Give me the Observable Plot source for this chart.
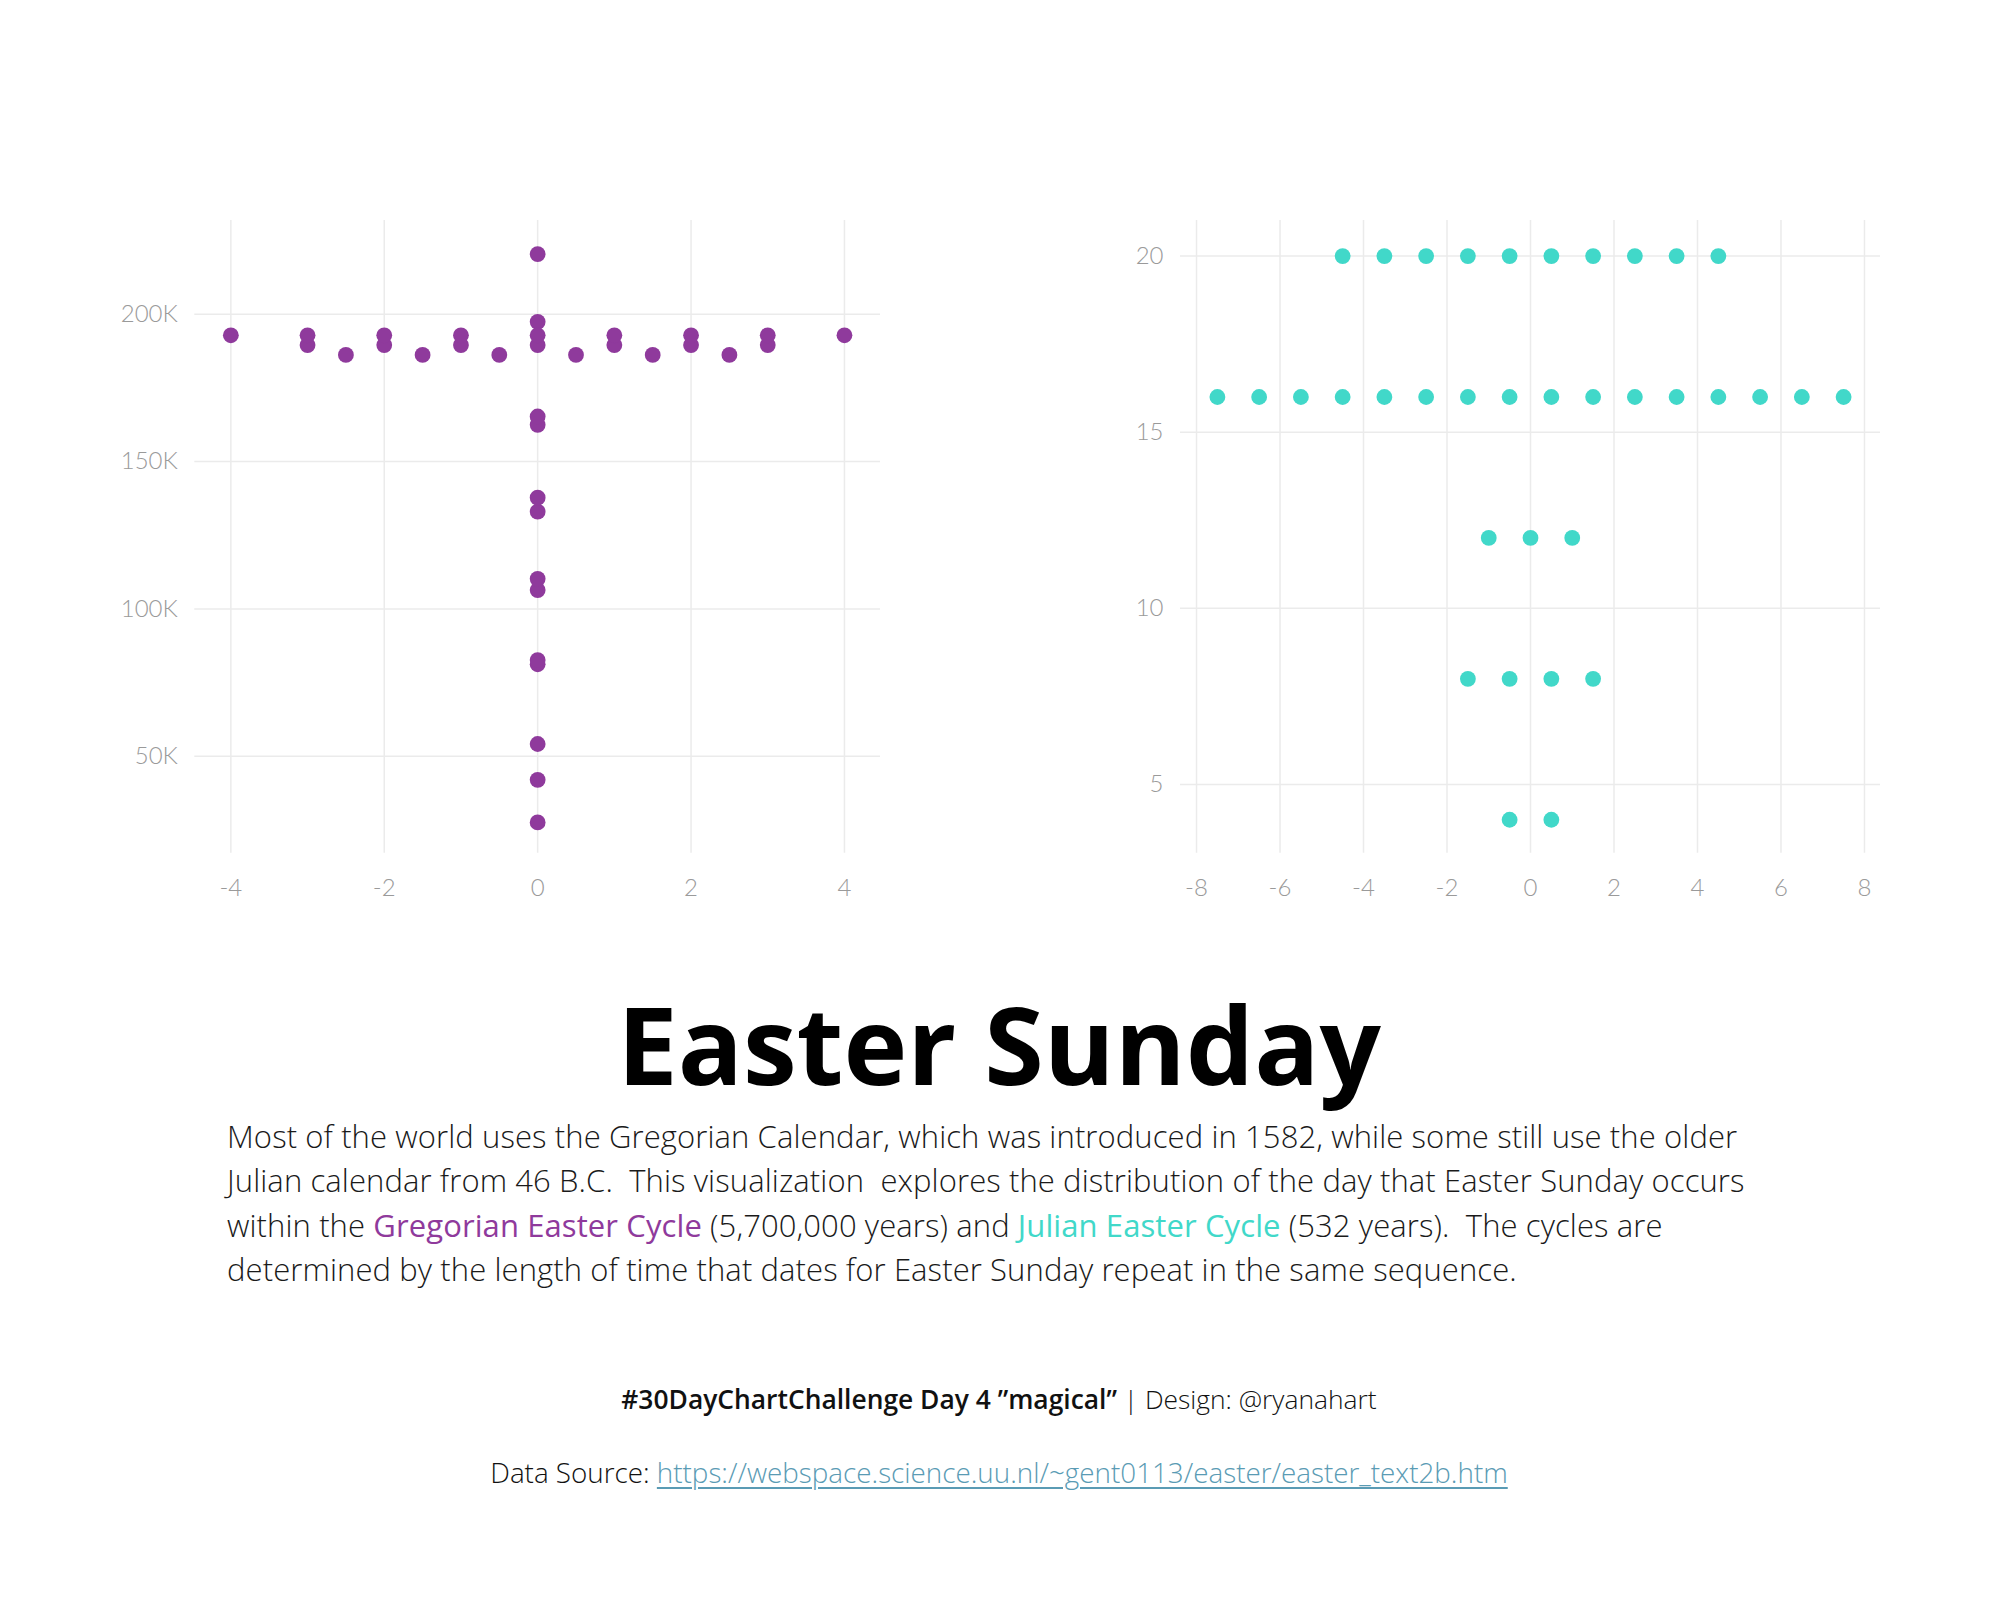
<!DOCTYPE html>
<html>
<head>
<meta charset="utf-8">
<script src="https://cdn.jsdelivr.net/npm/d3@7"></script>
<script src="https://cdn.jsdelivr.net/npm/@observablehq/plot@0.6"></script>
<style>
  html, body { margin: 0; padding: 0; background: #fff; }
  body { width: 1998px; height: 1598px; position: relative; overflow: hidden; }
  .chart { position: absolute; top: 0; }
  .txt { position: absolute; white-space: pre; }
  .center { left: 999px; transform: translateX(-50%); text-align: center; }
  #title { top: 990px; font-family: "Open Sans", sans-serif; font-weight: 700; font-size: 108px; line-height: 1; color: #000; }
  .bline { left: 227px; font-family: "Open Sans", sans-serif; font-weight: 300; font-size: 31px;
    letter-spacing: 0.1px; line-height: 44.3px; height: 44.3px; color: #1a1a1a; }
  .bline .g { color: #8f3a9c; font-weight: 400; }
  .bline .j { color: #41d8c9; font-weight: 400; }
  .foot { font-family: "Open Sans", sans-serif; line-height: 1.2; color: #111; font-weight: 300; }
  .foot .b { font-weight: 600; }
  .foot a { color: #5a9bb4; text-decoration: underline; text-decoration-thickness: 2px; text-underline-offset: 4px; }
</style>
</head>
<body>
<div id="left" class="chart" style="left:0px;width:1000px"></div>
<div id="right" class="chart" style="left:1000px;width:998px"></div>
<div id="title" class="txt center">Easter Sunday</div>
<div id="foot1" class="txt foot center" style="top:1384px;font-size:26.4px"></div>
<div id="foot2" class="txt foot center" style="top:1456px;font-size:27.8px"></div>
<script>
// ---- Data: Gregorian Easter cycle (5,700,000 years), frequency of each Easter date ----
const gregorianYears = [
  27550, 42000, 54150, 81225, 82650, 106400, 110200, 133000, 137750, 162450, 165300, 197400, 220400,
  186200, 186200, 186200, 186200, 186200, 186200,
  189525, 189525, 189525, 189525, 189525, 189525, 189525,
  192850, 192850, 192850, 192850, 192850, 192850, 192850, 192850, 192850
];
const gregorianOffset = [
  0, 0, 0, 0, 0, 0, 0, 0, 0, 0, 0, 0, 0,
  -2.5, -1.5, -0.5, 0.5, 1.5, 2.5,
  -3, -2, -1, 0, 1, 2, 3,
  -4, -3, -2, -1, 0, 1, 2, 3, 4
];
// ---- Data: Julian Easter cycle (532 years) ----
const julianYears = [
  4, 4,
  8, 8, 8, 8,
  12, 12, 12,
  16, 16, 16, 16, 16, 16, 16, 16, 16, 16, 16, 16, 16, 16, 16, 16,
  20, 20, 20, 20, 20, 20, 20, 20, 20, 20
];
const julianOffset = [
  -0.5, 0.5,
  -1.5, -0.5, 0.5, 1.5,
  -1, 0, 1,
  -7.5, -6.5, -5.5, -4.5, -3.5, -2.5, -1.5, -0.5, 0.5, 1.5, 2.5, 3.5, 4.5, 5.5, 6.5, 7.5,
  -4.5, -3.5, -2.5, -1.5, -0.5, 0.5, 1.5, 2.5, 3.5, 4.5
];
// ---- Ticks ----
const gregorianXTicks = [-4, -2, 0, 2, 4];
const gregorianYTicks = [50000, 100000, 150000, 200000];
const gregorianYLabels = ["50K", "100K", "150K", "200K"];
const julianXTicks = [-8, -6, -4, -2, 0, 2, 4, 6, 8];
const julianYTicks = [5, 10, 15, 20];
const julianYLabels = ["5", "10", "15", "20"];

const PURPLE = "#8f3a9c";
const TURQUOISE = "#41d8c9";
const GRID = "#ebebeb";

function chart({years, offset, xDomain, yDomain, xTicks, yTicks, yLabels, color, width, marginLeft, marginRight}) {
  const data = years.map((v, i) => ({freq: v, pos: offset[i]}));
  return Plot.plot({
    width, height: 920,
    marginTop: 220, marginBottom: 67.3, marginLeft, marginRight,
    x: {domain: xDomain, label: null},
    y: {domain: yDomain, label: null},
    style: "font-family: Lato, sans-serif; font-size: 24px; font-weight: 300; color: #9a9a9a; background: transparent; overflow: visible; max-width: none;",
    marks: [
      Plot.gridX(xTicks, {stroke: GRID, strokeOpacity: 1, strokeWidth: 1.5}),
      Plot.gridY(yTicks, {stroke: GRID, strokeOpacity: 1, strokeWidth: 1.5}),
      Plot.axisX(xTicks, {tickSize: 0, tickPadding: 26, tickFormat: d => String(d), label: null, fill: "#9a9a9a"}),
      Plot.axisY(yTicks, {tickSize: 0, tickPadding: 17, tickFormat: d => yLabels[yTicks.indexOf(d)], label: null, fill: "#9a9a9a"}),
      Plot.dot(data, {x: "pos", y: "freq", r: 7.9, fill: color, stroke: null})
    ]
  });
}

document.getElementById("left").appendChild(chart({
  years: gregorianYears, offset: gregorianOffset,
  xDomain: [-4.47, 4.47], yDomain: [17100, 231800],
  xTicks: gregorianXTicks, yTicks: gregorianYTicks, yLabels: gregorianYLabels,
  color: PURPLE, width: 1000, marginLeft: 194.3, marginRight: 120
}));
document.getElementById("right").appendChild(chart({
  years: julianYears, offset: julianOffset,
  xDomain: [-8.384, 8.384], yDomain: [3.05, 21.01],
  xTicks: julianXTicks, yTicks: julianYTicks, yLabels: julianYLabels,
  color: TURQUOISE, width: 998, marginLeft: 180, marginRight: 118
}));

// ---- Text blocks: each line is a separate element made only of spans ----
const bodyLines = [
  [["", "Most of the world uses the Gregorian Calendar, which was introduced in 1582, while some still use the older"]],
  [["", "Julian calendar from 46 B.C.  This visualization  explores the distribution of the day that Easter Sunday occurs"]],
  [["", "within the "], ["g", "Gregorian Easter Cycle"], ["", " (5,700,000 years) and "], ["j", "Julian Easter Cycle"], ["", " (532 years).  The cycles are"]],
  [["", "determined by the length of time that dates for Easter Sunday repeat in the same sequence."]]
];
bodyLines.forEach((parts, i) => {
  const div = document.createElement("div");
  div.className = "txt bline";
  div.style.top = (1114 + i * 44.3) + "px";
  parts.forEach(([cls, t]) => {
    const s = document.createElement("span");
    if (cls) s.className = cls;
    s.textContent = t;
    div.appendChild(s);
  });
  document.body.appendChild(div);
});

function fill(id, parts) {
  const div = document.getElementById(id);
  parts.forEach(([tag, cls, t]) => {
    const s = document.createElement(tag);
    if (cls) s.className = cls;
    s.textContent = t;
    div.appendChild(s);
  });
}
fill("foot1", [["span", "b", "#30DayChartChallenge Day 4 \u201Dmagical\u201D"], ["span", "", " | Design: @ryanahart"]]);
fill("foot2", [["span", "", "Data Source: "], ["a", "", "https://webspace.science.uu.nl/~gent0113/easter/easter_text2b.htm"]]);
</script>
</body>
</html>
